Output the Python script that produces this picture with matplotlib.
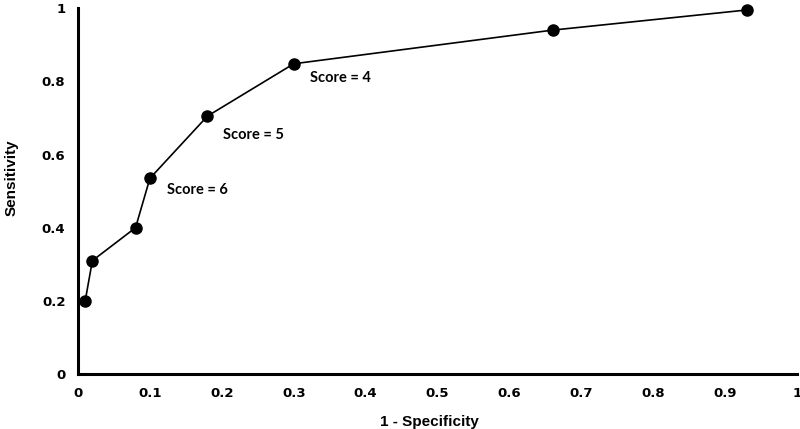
import matplotlib.pyplot as plt

fpr = [0.01, 0.02, 0.08, 0.10, 0.18, 0.30, 0.66, 0.93]
tpr = [0.20, 0.31, 0.40, 0.535, 0.705, 0.848, 0.94, 0.995]

score_labels = ["Score = 4", "Score = 5", "Score = 6"]
score_pos = [(0.30, 0.848), (0.18, 0.705), (0.10, 0.535)]
score_offsets = [(16, -14), (16, -19), (17, -12)]  # pixels from the point

fig = plt.figure(figsize=(8, 4.29), dpi=100)
ax = fig.add_axes([0.0975, 0.128, 0.899, 0.853])

ax.plot(fpr, tpr, color="black", linewidth=1.2, marker="o", markersize=8, clip_on=False)

for label, (x, y), off in zip(score_labels, score_pos, score_offsets):
    ax.annotate(label, (x, y), xytext=off, textcoords="offset pixels",
                fontsize=10.5, fontweight="bold", family="Lato", va="center")

ax.set_xlim(0, 1)
ax.set_ylim(0, 1)
ax.set_xticks([i / 10 for i in range(11)])
ax.set_xticklabels(["0", "0.1", "0.2", "0.3", "0.4", "0.5", "0.6", "0.7", "0.8", "0.9", "1"])
ax.set_yticks([0, 0.2, 0.4, 0.6, 0.8, 1])
ax.set_yticklabels(["0", "0.2", "0.4", "0.6", "0.8", "1"])
ax.tick_params(length=0, labelsize=9.5, pad=9)
for lbl in ax.get_xticklabels() + ax.get_yticklabels():
    lbl.set_fontweight("bold")

ax.set_xlabel("1 - Specificity", fontsize=11, fontweight="bold", family="Liberation Sans", labelpad=11)
ax.xaxis.label.set_x(0.489)
ax.set_ylabel("Sensitivity", fontsize=11, fontweight="bold", family="Liberation Sans")
ax.yaxis.set_label_coords(-0.082, 0.538)

for side in ["top", "right"]:
    ax.spines[side].set_visible(False)
for side in ["left", "bottom"]:
    ax.spines[side].set_linewidth(2.2)

ax.patch.set_alpha(0)
plt.savefig("out.png", dpi=100)
